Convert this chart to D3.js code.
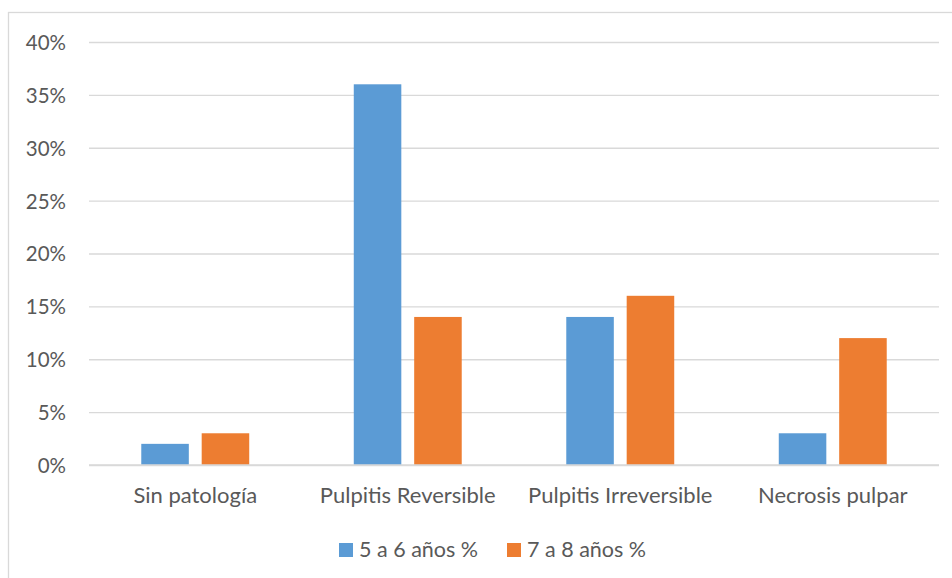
<!DOCTYPE html>
<html>
<head>
<meta charset="utf-8">
<script src="https://cdn.jsdelivr.net/npm/d3@7"></script>
<style>
  html, body { margin: 0; padding: 0; background: #fff; }
  svg { display: block; }
  text { font-family: Lato, "Open Sans", sans-serif; fill: #595959; }
</style>
</head>
<body>
<svg id="chart" width="952" height="578"></svg>
<script>
// Diagnóstico pulpar por grupo de edad
const categories = ["Sin patología", "Pulpitis Reversible", "Pulpitis Irreversible", "Necrosis pulpar"];
const seriesNames = ["5 a 6 años %", "7 a 8 años %"];
const values5a6 = [2, 36, 14, 3];
const values7a8 = [3, 14, 16, 12];
const yTicks = [0, 5, 10, 15, 20, 25, 30, 35, 40];
const colors = ["#5B9BD5", "#ED7D31"];

const seriesValues = [values5a6, values7a8];
const rows = categories.map((c, i) => ({
  category: c,
  values: seriesNames.map((s, k) => ({ series: s, k, value: seriesValues[k][i] }))
}));

const svg = d3.select("#chart");
const plot = { left: 89, right: 939, top: 42, bottom: 465 };
const font = "Lato, 'Open Sans', sans-serif";

// Chart frame
svg.append("rect")
  .attr("x", 8.5).attr("y", 12.5)
  .attr("width", 960).attr("height", 600)
  .attr("fill", "none").attr("stroke", "#D9D9D9").attr("stroke-width", 1.3);

const y = d3.scaleLinear().domain([0, 40]).range([plot.bottom, plot.top]);
const x0 = d3.scaleBand().domain(categories).range([plot.left, plot.right])
  .paddingInner(0.492).paddingOuter(0.246);
const x1 = d3.scaleBand().domain(seriesNames).range([0, x0.bandwidth()])
  .paddingInner(0.213).paddingOuter(0);

// Gridlines and value labels
const yAxis = d3.axisLeft(y).tickValues(yTicks)
  .tickSize(-(plot.right - plot.left)).tickFormat(d => d + "%").tickPadding(23);
const gy = svg.append("g").attr("transform", `translate(${plot.left},0)`).call(yAxis);
gy.select(".domain").remove();
gy.selectAll(".tick line").attr("stroke", "#D9D9D9").attr("stroke-width", 1.3);
gy.selectAll(".tick text").attr("font-size", 20.5).attr("dy", "0.36em")
  .style("fill", "#595959").attr("font-family", font);

// Bars
const groups = svg.append("g").selectAll("g").data(rows).join("g")
  .attr("transform", d => `translate(${x0(d.category)},0)`);
groups.selectAll("rect").data(d => d.values).join("rect")
  .attr("x", d => x1(d.series))
  .attr("width", x1.bandwidth())
  .attr("y", d => y(d.value))
  .attr("height", d => y(0) - y(d.value))
  .attr("fill", d => colors[d.k]);

// Baseline drawn over the bars
svg.append("line")
  .attr("x1", plot.left).attr("x2", plot.right)
  .attr("y1", y(0)).attr("y2", y(0))
  .attr("stroke", "#D9D9D9").attr("stroke-width", 1.3);

// Category labels
const xAxis = d3.axisBottom(x0).tickSize(0).tickPadding(22.5);
const gx = svg.append("g").attr("transform", `translate(0,${plot.bottom})`).call(xAxis);
gx.select(".domain").remove();
gx.selectAll(".tick text").attr("font-size", 22).style("fill", "#595959")
  .attr("font-family", font);

// Legend
const legend = svg.append("g");
const legendX = [339, 507];
seriesNames.forEach((s, k) => {
  const g = legend.append("g").attr("transform", `translate(${legendX[k]},543)`);
  g.append("rect").attr("width", 14).attr("height", 14).attr("fill", colors[k]);
  g.append("text").attr("x", 20).attr("y", 14).attr("font-size", 21.5).text(s);
});
</script>
</body>
</html>
